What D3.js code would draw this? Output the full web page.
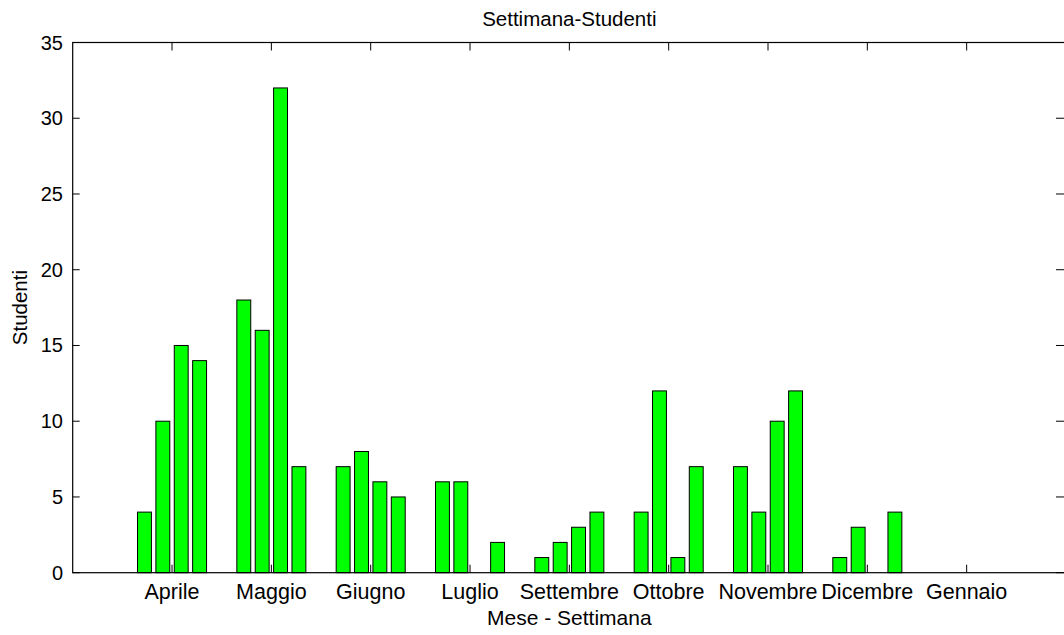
<!DOCTYPE html>
<html><head><meta charset="utf-8">
<script src="https://cdn.jsdelivr.net/npm/d3@7"></script>
<style>body{margin:0;background:#fff}svg{display:block}text{font-family:"Liberation Sans",Arial,sans-serif;fill:#000}</style>
</head><body><svg id="c" width="1064" height="635"></svg>
<script>
const months = ["Aprile","Maggio","Giugno","Luglio","Settembre","Ottobre","Novembre","Dicembre","Gennaio"];
const week1 = [4,18,7,6,1,4,7,1,0];
const week2 = [10,16,8,6,2,12,4,3,0];
const week3 = [15,32,6,0,3,1,10,0,0];
const week4 = [14,7,5,2,4,7,12,4,0];
const yTicks = [0,5,10,15,20,25,30,35];
const title = "Settimana-Studenti", xTitle = "Mese - Settimana", yTitle = "Studenti";

const series = [week1,week2,week3,week4];
const svg = d3.select("#c");
const L = 72.7, R = 1066, T = 42.5, B = 572.7;
const x = d3.scaleLinear().domain([0,10]).range([L,R]);
const y = d3.scaleLinear().domain([0,35]).range([B,T]);
const pitch = 0.185, bw = 0.14;

// bars
const g = svg.append("g");
series.forEach((s,si)=>{
  g.selectAll(null).data(s).enter().append("rect")
    .attr("x",(d,i)=>x(i+1+(si-1.5)*pitch-bw/2))
    .attr("width",x(bw)-x(0))
    .attr("y",d=>y(d))
    .attr("height",d=>y(0)-y(d))
    .attr("fill","#00ff00").attr("stroke","#000").attr("stroke-width",1);
});

// box
svg.append("rect").attr("x",L).attr("y",T).attr("width",R-L).attr("height",B-T)
  .attr("fill","none").attr("stroke","#000").attr("stroke-width",1.2);

const tl = 8;
const xt = months.map((m,i)=>i+1);
svg.append("g").selectAll("line").data(xt).enter().append("line")
  .attr("x1",d=>x(d)).attr("x2",d=>x(d)).attr("y1",B).attr("y2",B-tl).attr("stroke","#000");
svg.append("g").selectAll("line").data(xt).enter().append("line")
  .attr("x1",d=>x(d)).attr("x2",d=>x(d)).attr("y1",T).attr("y2",T+tl).attr("stroke","#000");
svg.append("g").selectAll("line").data(yTicks).enter().append("line")
  .attr("x1",L).attr("x2",L+7).attr("y1",d=>y(d)).attr("y2",d=>y(d)).attr("stroke","#000");
svg.append("g").selectAll("line").data(yTicks).enter().append("line")
  .attr("x1",1064).attr("x2",1056).attr("y1",d=>y(d)).attr("y2",d=>y(d)).attr("stroke","#000");

// labels
svg.append("g").selectAll("text").data(months).enter().append("text")
  .attr("x",(d,i)=>x(i+1)).attr("y",599).attr("text-anchor","middle")
  .style("font-size","21.5px").text(d=>d);
svg.append("g").selectAll("text").data(yTicks).enter().append("text")
  .attr("x",63).attr("y",d=>y(d)+7).attr("text-anchor","end")
  .style("font-size","20px").text(d=>d);
svg.append("text").attr("x",x(5)).attr("y",26).attr("text-anchor","middle").style("font-size","20.5px").text(title);
svg.append("text").attr("x",x(5)).attr("y",625).attr("text-anchor","middle").style("font-size","21px").text(xTitle);
svg.append("text").attr("transform","translate(27,"+((T+B)/2)+") rotate(-90)").attr("text-anchor","middle").style("font-size","20.5px").text(yTitle);
</script></body></html>
